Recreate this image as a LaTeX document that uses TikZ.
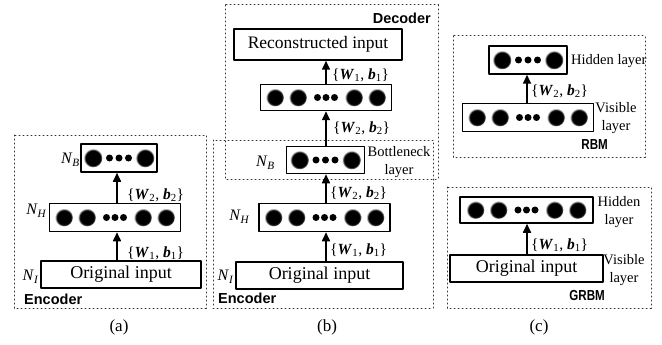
\documentclass[tikz,border=0pt]{standalone}
\usepackage{fontspec}
\setmainfont{Liberation Serif}
\setsansfont{Liberation Sans}
\usetikzlibrary{arrows.meta}

\pgfdeclareradialshading{neuron}{\pgfpoint{0bp}{0bp}}{color(0bp)=(black); color(20bp)=(black); color(23bp)=(black!45); color(25bp)=(white); color(50bp)=(white)}

\newcommand{\wb}[1]{\{\textbf{\textit{W}}\textsubscript{#1}, \textbf{\textit{b}}\textsubscript{#1}\}}
\newcommand{\nn}[1]{\textit{N}\textsubscript{\textit{#1}}}

% units of a layer box
\newcommand{\widerow}[1]{%
  \foreach \u in {-51,-28,28,51}{\shade[shading=neuron] ([xshift=\u pt]#1.center) circle (9pt);}%
  \foreach \u in {-8.5,0,8.5}{\fill ([xshift=\u pt]#1.center) circle (3.5pt);}}
\newcommand{\narrowrow}[1]{%
  \foreach \u in {-26,26}{\shade[shading=neuron] ([xshift=\u pt]#1.center) circle (9.5pt);}%
  \foreach \u in {-9.5,0,9.5}{\fill ([xshift=\u pt]#1.center) circle (3.5pt);}}

\begin{document}
\begin{tikzpicture}[x=1pt,y=-1pt,line cap=round,line join=round]
\tikzset{
  layer/.style={draw, line width=1.5pt, inner sep=0pt, minimum height=28pt, fill=white},
  wide/.style={layer, minimum width=131pt},
  narrow/.style={layer, minimum width=78pt},
  inbox/.style={layer, minimum height=27pt, font=\fontsize{18}{20}\selectfont},
  frame/.style={draw=black!80, line width=1pt, dash pattern=on 1pt off 3pt},
  flow/.style={-{Triangle[length=9pt,width=8pt]}, line width=1.6pt},
  wlab/.style={anchor=west, inner sep=0pt, font=\fontsize{15.5}{18}\selectfont},
  nlab/.style={anchor=east, inner sep=0pt, font=\fontsize{16}{18}\selectfont},
  side/.style={inner sep=0pt, align=center, font=\fontsize{14.5}{18}\selectfont},
  tag/.style={inner sep=0pt, font=\fontsize{14.5}{16}\sffamily\bfseries},
  caption/.style={inner sep=0pt, font=\fontsize{17}{20}\selectfont}
}
\useasboundingbox (0,0) rectangle (662,345);

% frames
\draw[frame] (14,135) rectangle (206,308);
\draw[frame] (225,5) rectangle (438,179);
\draw[frame] (213,140) rectangle (433,308);
\draw[frame] (453,36) rectangle (645,157);
\draw[frame] (447,187) rectangle (651,308);

% (a) encoder
\coordinate (ax) at (117,0);
\node[narrow, minimum width=76pt] (nba) at (119,158) {};
\node[wide] (nha) at (115,217.5) {};
\node[inbox, minimum width=160pt] (ina) at (121,274.5) {Original input};
\narrowrow{nba}
\widerow{nha}
\draw[flow] (ina.north -| ax) -- (nha.south -| ax);
\draw[flow] (nha.north -| ax) -- (nba.south -| ax);
\node[wlab] (wa2) at (127,195) {\wb{2}};
\node[wlab] (wa1) at (127,253) {\wb{1}};
\node[nlab] (la-b) at (80,160) {\nn{B}};
\node[nlab] (la-h) at (47,211) {\nn{H}};
\node[nlab] (la-i) at (39,277) {\nn{I}};
\node[tag, anchor=west] (enca) at (24,299) {Encoder};
\node[caption] (capa) at (119,327) {(a)};

% (b) encoder + decoder
\coordinate (bx) at (326,0);
\node[inbox, minimum width=168pt, minimum height=31pt, font=\fontsize{17.5}{20}\selectfont] (rec) at (318,44.5) {Reconstructed input};
\node[wide, minimum height=26pt] (dh) at (326,97.5) {};
\node[narrow, minimum height=27pt] (nbb) at (325.5,160) {};
\node[wide] (nhb) at (324.5,217.5) {};
\node[inbox, minimum width=167pt] (inb) at (319.5,275.5) {Original input};
\widerow{dh}
\narrowrow{nbb}
\widerow{nhb}
\draw[flow] (inb.north -| bx) -- (nhb.south -| bx);
\draw[flow] (nhb.north -| bx) -- (nbb.south -| bx);
\draw[flow] (nbb.north -| bx) -- (dh.south -| bx);
\draw[flow] (dh.north -| bx) -- (rec.south -| bx);
\node[wlab] (wb1d) at (332,75) {\wb{1}};
\node[wlab] (wb2d) at (333,128) {\wb{2}};
\node[wlab] (wb2e) at (330,193) {\wb{2}};
\node[wlab] (wb1e) at (330,250) {\wb{1}};
\node[nlab] (lb-b) at (275,163) {\nn{B}};
\node[nlab] (lb-h) at (250,217) {\nn{H}};
\node[nlab] (lb-i) at (234,277) {\nn{I}};
\node[side] (bneck) at (399,162) {Bottleneck\\layer};
\node[tag, anchor=east] (dec) at (431,18) {Decoder};
\node[tag, anchor=west] (encb) at (218,298) {Encoder};
\node[caption] (capb) at (327,327) {(b)};

% (c) RBM
\coordinate (cx) at (527,0);
\node[narrow] (rh) at (528,60) {};
\node[wide] (rv) at (528,117.5) {};
\narrowrow{rh}
\widerow{rv}
\draw[flow] (rv.north -| cx) -- (rh.south -| cx);
\node[wlab] (wr2) at (531,91) {\wb{2}};
\node[side, anchor=west] (rhid) at (571,61) {Hidden layer};
\node[side] (rvis) at (616,118) {Visible\\layer};
\node[tag, anchor=east] (rbm) at (608,145) {\scalebox{0.8}[1]{RBM}};

% (c) GRBM
\node[wide, minimum width=133pt, minimum height=26pt] (gh) at (526.5,210) {};
\node[inbox, minimum width=153pt] (gin) at (526.5,268.5) {Original input};
\widerow{gh}
\draw[flow] (gin.north -| cx) -- (gh.south -| cx);
\node[wlab] (wg1) at (531,245) {\wb{1}};
\node[side] (ghid) at (619,212) {Hidden\\layer};
\node[side] (gvis) at (624,270) {Visible\\layer};
\node[tag, anchor=east] (grbm) at (605,296) {\scalebox{0.8}[1]{GRBM}};
\node[caption] (capc) at (539,327) {(c)};
\end{tikzpicture}
\end{document}
